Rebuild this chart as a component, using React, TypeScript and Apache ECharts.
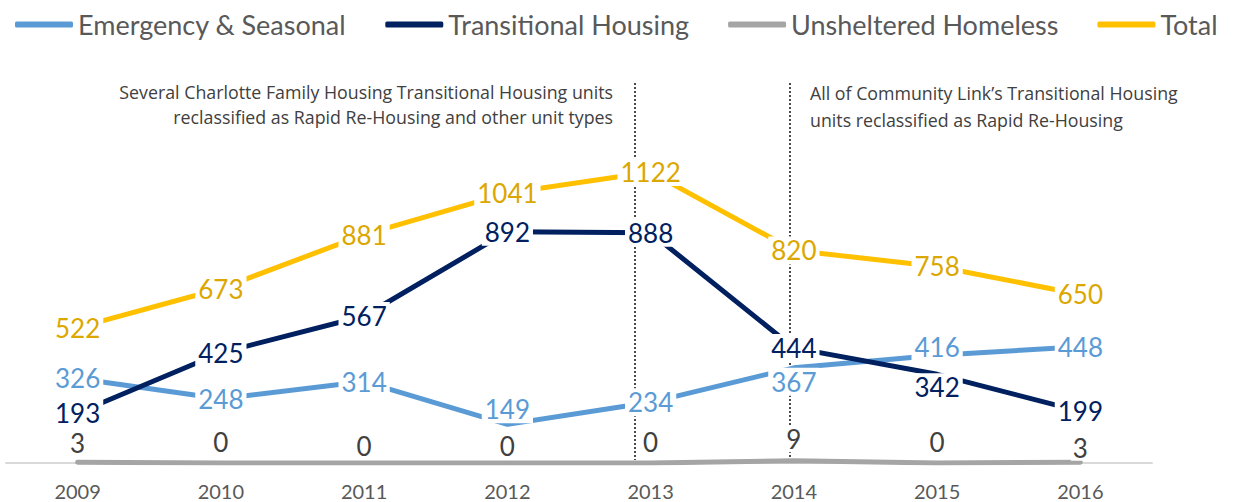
import React, { useEffect, useRef } from "react";
import * as echarts from "echarts";

const years = ["2009", "2010", "2011", "2012", "2013", "2014", "2015", "2016"];
const emergency = [326, 248, 314, 149, 234, 367, 416, 448];
const transitional = [193, 425, 567, 892, 888, 444, 342, 199];
const unsheltered = [3, 0, 0, 0, 0, 9, 0, 3];
const total = [522, 673, 881, 1041, 1122, 820, 758, 650];
const seriesNames = ["Emergency & Seasonal", "Transitional Housing", "Unsheltered Homeless", "Total"];
const noteLeft = "Several Charlotte Family Housing Transitional Housing units\nreclassified as Rapid Re-Housing and other unit types";
const noteRight = "All of Community Link\u2019s Transitional Housing\nunits reclassified as Rapid Re-Housing";

// label nudges (pixels) to mimic the reference's manual label placement
const labelNudge: Record<string, Record<number, number>> = {
  e: { 3: -15, 5: 14, 6: -8 },
  t: { 6: 13 },
  u: { 0: 2, 2: 4, 3: 4, 7: 7 },
};

export default function App() {
  const ref = useRef<HTMLDivElement>(null);
  useEffect(() => {
    if (!ref.current) return;
    const chart = echarts.init(ref.current, undefined, { renderer: "svg" });
    const mk = (vals: number[], key: string) =>
      vals.map((v, i) => {
        const n = labelNudge[key] && labelNudge[key][i];
        return n ? { value: v, label: { offset: [0, n] } } : { value: v };
      });
    const centerLabel = (color: string) => ({
      show: true,
      position: "inside",
      color,
      fontSize: 26,
      fontFamily: "Lato",
      backgroundColor: "#ffffff",
      padding: [1, 3],
    });
    const line = (color: string) => ({ color, width: 5, cap: "butt" });
    const dotted = { stroke: "#4a4a4a", lineWidth: 2, lineDash: [2, 2] };
    chart.setOption({
      animation: false,
      legend: {
        top: 6,
        left: 10,
        itemWidth: 58,
        itemHeight: 6,
        itemGap: 39,
        icon: "roundRect",
        textStyle: { fontSize: 27, color: "#595959", fontFamily: "Lato" },
        data: seriesNames,
      },
      grid: { left: 6, right: 85, top: 100, bottom: 39 },
      xAxis: {
        type: "category",
        data: years,
        boundaryGap: true,
        axisTick: { show: false },
        axisLine: { lineStyle: { color: "#d9d9d9", width: 2 } },
        axisLabel: { fontSize: 20, color: "#595959", fontFamily: "Lato", margin: 18 },
      },
      yAxis: { type: "value", min: 0, max: 1400, show: false, splitLine: { show: false } },
      graphic: [
        { type: "line", z: 0, shape: { x1: 635, y1: 83, x2: 635, y2: 460 }, style: dotted },
        { type: "line", z: 0, shape: { x1: 790, y1: 83, x2: 790, y2: 460 }, style: dotted },
        {
          type: "text",
          z: 1,
          x: 613,
          y: 79,
          style: {
            text: noteLeft,
            align: "right",
            verticalAlign: "top",
            fontSize: 17.8,
            lineHeight: 25,
            fontFamily: "Open Sans",
            fill: "#404040",
          },
        },
        {
          type: "text",
          z: 1,
          x: 810,
          y: 79,
          style: {
            text: noteRight,
            align: "left",
            verticalAlign: "top",
            fontSize: 17.8,
            lineHeight: 27,
            fontFamily: "Open Sans",
            fill: "#404040",
          },
        },
      ],
      series: [
        {
          name: seriesNames[0],
          type: "line",
          data: mk(emergency, "e"),
          symbol: "circle",
          symbolSize: 1,
          color: "#5b9bd5",
          lineStyle: line("#5b9bd5"),
          label: centerLabel("#5b9bd5"),
          silent: true,
        },
        {
          name: seriesNames[1],
          type: "line",
          data: mk(transitional, "t"),
          symbol: "circle",
          symbolSize: 1,
          color: "#002060",
          lineStyle: line("#002060"),
          label: centerLabel("#002060"),
          silent: true,
        },
        {
          name: seriesNames[2],
          type: "line",
          data: mk(unsheltered, "u"),
          symbol: "circle",
          symbolSize: 1,
          color: "#a5a5a5",
          lineStyle: { color: "#a5a5a5", width: 5, cap: "round" },
          label: {
            show: true,
            position: "top",
            distance: 8,
            color: "#404040",
            fontSize: 26,
            fontFamily: "Lato",
            backgroundColor: "#ffffff",
            padding: [0, 2],
          },
          silent: true,
        },
        {
          name: seriesNames[3],
          type: "line",
          data: total,
          symbol: "circle",
          symbolSize: 1,
          color: "#ffc000",
          lineStyle: line("#ffc000"),
          label: centerLabel("#dba700"),
          silent: true,
        },
      ],
    });
    return () => chart.dispose();
  }, []);
  return (
    <div
      ref={ref}
      style={{ position: "fixed", left: 0, top: 0, width: 1237, height: 502, background: "#fff" }}
    />
  );
}
